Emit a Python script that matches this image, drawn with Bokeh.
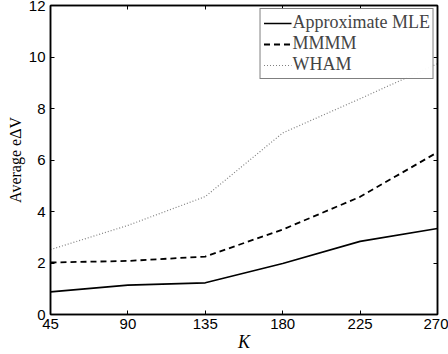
from bokeh.plotting import figure
from bokeh.models import FixedTicker, LinearAxis, Range1d
from bokeh.embed import file_html
from bokeh.resources import INLINE

K = [45, 90, 135, 180, 225, 270]
mle = [0.88, 1.14, 1.23, 1.98, 2.84, 3.34]
mmmm = [2.02, 2.08, 2.25, 3.3, 4.57, 6.3]
wham = [2.52, 3.46, 4.58, 7.05, 8.38, 9.74]
x_ticks = [45, 90, 135, 180, 225, 270]
y_ticks = [0, 2, 4, 6, 8, 10, 12]

p = figure(width=448, height=354, output_backend="svg", toolbar_location=None,
           x_range=Range1d(45, 270), y_range=Range1d(0, 12),
           min_border_left=50, min_border_right=11, min_border_top=5, min_border_bottom=40)
p.grid.visible = False
p.outline_line_color = "black"
p.outline_line_width = 1.5

p.line(K, mle, line_color="black", line_width=1.6, legend_label="Approximate MLE")
p.line(K, mmmm, line_color="black", line_width=1.8, line_dash="6 4", legend_label="MMMM")
p.line(K, wham, line_color="#808080", line_width=1.2, line_dash="1 2", legend_label="WHAM")

for ax in (p.xaxis[0], p.yaxis[0]):
    ax.major_tick_in = 4
    ax.major_tick_out = 0
    ax.minor_tick_in = 0
    ax.minor_tick_out = 0
    ax.axis_line_width = 1.5
    ax.major_tick_line_width = 1
    ax.major_label_text_font = "Liberation Sans"
    ax.major_label_text_font_size = "15px"
    ax.major_label_text_color = "black"
    ax.axis_label_text_font = "Liberation Serif"
    ax.axis_label_text_color = "black"
p.xaxis[0].ticker = FixedTicker(ticks=x_ticks)
p.yaxis[0].ticker = FixedTicker(ticks=y_ticks)
p.xaxis[0].major_label_standoff = 4
p.yaxis[0].major_label_standoff = 5

p.xaxis[0].axis_label = "K"
p.xaxis[0].axis_label_text_font_style = "italic"
p.xaxis[0].axis_label_text_font_size = "18px"
p.xaxis[0].axis_label_standoff = 0

p.yaxis[0].axis_label = "Average eΔV"
p.yaxis[0].axis_label_text_font_style = "normal"
p.yaxis[0].axis_label_text_font_size = "16px"
p.yaxis[0].axis_label_standoff = 2

for loc, ticks in (("above", x_ticks), ("right", y_ticks)):
    ax = LinearAxis(ticker=FixedTicker(ticks=ticks), major_tick_in=4, major_tick_out=0,
                    minor_tick_in=0, minor_tick_out=0,
                    major_label_overrides={t: "" for t in ticks},
                    major_label_standoff=0, axis_line_width=1.5)
    p.add_layout(ax, loc)

p.legend.location = "top_right"
p.legend.border_line_color = "black"
p.legend.border_line_width = 1.5
p.legend.label_text_font = "Liberation Serif"
p.legend.label_text_font_size = "18px"
p.legend.glyph_width = 28
p.legend.glyph_height = 12
p.legend.label_height = 12
p.legend.spacing = 0
p.legend.padding = 3
p.legend.margin = 3
p.legend.label_standoff = 1

open("out.html", "w").write(file_html(p, INLINE))
